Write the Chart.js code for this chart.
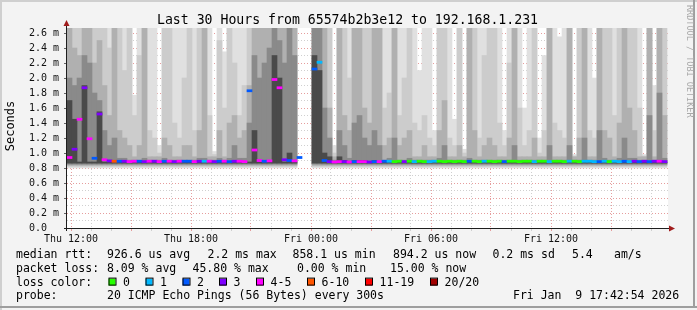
<!DOCTYPE html>
<html>
<head>
<meta charset="utf-8">
<script src="https://cdn.jsdelivr.net/npm/chart.js@4.4.1/dist/chart.umd.min.js"></script>
<style>
  html, body { margin: 0; padding: 0; background: #f3f3f3; }
  canvas { display: block; }
</style>
</head>
<body>
<canvas id="smoke" width="697" height="310"></canvas>
<script>
// 15 minute slots, hours counted from Thu 12:00 (first slot starts 11:48)
const T = 2.7; // ping ran off the top of the graph

// smoke layers: top of each grey band per slot, in ms (axis shows "m")
const smokeLight = [
  T,T,T,T,T,T,T,T,T,T,T,T,T,1.77,T,T,T,T,1.1,T,T,T,T,T,
  T,T,T,T,T,1.02,T,2.35,T,T,T,T,T,T,T,T,T,T,T,T,T,T,null,null,
  null,T,T,T,T,1.1,T,T,T,T,T,T,T,T,T,T,T,T,T,T,T,T,2.1,T,
  T,1.3,T,T,T,1.45,T,1.05,T,T,T,T,T,T,T,1.3,T,T,T,1.6,T,T,1.2,2.3,
  T,T,2.55,T,T,0.98,T,T,T,2.0,T,T,T,T,T,T,T,T,T,0.98,T,1.9,T,T
];
const smokeMid = [
  T,T,T,T,T,T,T,T,2.4,T,T,2.1,T,1.5,2.3,T,1.3,1.2,1.0,T,T,1.4,1.2,2.0,
  T,1.3,T,T,1.5,0.98,2.5,1.6,T,2.2,1.5,1.9,T,T,T,T,T,T,T,T,T,T,null,null,
  null,T,T,T,T,1.0,T,T,2.0,T,T,T,T,T,T,1.6,1.8,T,1.5,2.0,T,1.4,1.3,1.5,
  1.2,1.1,T,T,1.2,1.1,T,1.0,T,T,1.2,2.3,T,T,1.4,1.1,2.2,T,1.6,1.1,1.3,T,1.0,1.3,
  T,1.4,1.3,1.2,T,0.96,T,T,1.3,1.2,T,T,T,1.5,T,T,T,T,1.6,0.96,T,1.3,T,T
];
const smokeGray = [
  T,2.4,2.3,T,T,2.2,2.5,1.9,1.5,T,1.3,1.2,1.1,0.95,1.1,T,0.95,0.95,0.95,1.2,1.1,0.95,0.95,1.1,
  1.1,0.95,1.3,T,0.95,0.95,1.3,0.95,1.4,1.5,1.2,1.3,1.9,T,T,T,T,T,T,T,T,T,null,null,
  null,T,T,T,1.6,0.95,T,1.5,1.3,T,T,1.6,1.4,T,T,1.1,1.2,T,1.1,1.2,1.3,0.95,0.95,1.1,
  0.95,0.95,1.3,1.7,0.95,0.95,1.1,0.95,T,1.3,0.95,1.1,1.2,1.1,0.95,0.95,1.2,T,0.95,0.95,0.95,1.2,0.95,0.95,
  T,0.95,0.95,0.95,T,0.95,1.2,T,0.95,0.95,T,1.3,1.2,0.95,1.4,T,1.6,1.3,0.95,0.95,T,0.95,T,1.5
];
const smokeDark = [
  2.0,1.9,2.0,2.3,2.2,1.8,1.7,1.3,1.1,1.2,0.93,0.93,0.905,0.905,0.905,0.93,0.905,0.905,0.905,0.93,0.905,0.905,0.905,0.905,
  0.905,0.905,0.93,0.93,0.905,0.905,0.93,0.905,0.93,1.1,0.93,0.93,1.4,2.3,2.0,2.2,2.4,T,2.5,2.2,T,2.3,null,null,
  null,T,T,1.6,1.2,0.905,1.3,1.1,0.93,1.4,1.5,1.2,1.1,1.3,1.1,0.905,0.93,1.2,0.905,0.905,0.93,0.905,0.905,0.905,
  0.905,0.905,0.93,1.1,0.905,0.905,0.905,0.905,0.93,0.905,0.905,0.905,0.905,0.905,0.905,0.905,0.905,1.1,0.905,0.905,0.905,0.905,0.905,0.905,
  1.1,0.905,0.905,0.905,1.1,0.905,0.905,1.2,0.905,0.905,1.3,0.93,0.905,0.905,0.93,1.2,0.93,0.93,0.905,0.905,1.5,0.905,1.8,0.93
];
const smokeBlack = [
  1.7,1.45,0.88,1.9,0.88,0.88,1.55,0.88,0.88,0.88,0.88,0.88,0.88,0.88,0.88,0.88,0.88,0.88,0.88,0.88,0.88,0.88,0.88,0.88,
  0.88,0.88,0.88,0.88,0.88,0.88,0.88,0.88,0.88,0.88,0.88,0.88,0.88,1.3,0.88,0.88,0.88,2.3,2.0,0.88,1.0,0.88,null,null,
  null,2.3,2.1,1.0,0.95,0.88,0.95,0.9,0.88,0.9,0.9,0.9,0.88,0.9,0.88,0.88,0.88,0.88,0.88,0.88,0.88,0.88,0.88,0.88,
  0.88,0.88,0.88,0.88,0.88,0.88,0.88,0.88,0.88,0.88,0.88,0.88,0.88,0.88,0.88,0.88,0.88,0.88,0.88,0.88,0.88,0.88,0.88,0.88,
  0.88,0.88,0.88,0.88,0.88,0.88,0.88,0.88,0.88,0.88,0.88,0.88,0.88,0.88,0.88,0.88,0.88,0.88,0.88,0.88,0.88,0.88,0.9,0.88
];
// lowest ping of each band (the smoke under the median)
const smokeFloor = [0.865, 0.85, 0.835, 0.82, 0.80];

const medianRtt = [
  0.94,1.05,1.45,1.87,1.19,0.93,1.52,0.91,0.895,0.89,0.89,0.89,0.885,0.89,0.89,0.885,0.89,0.89,0.885,0.89,0.89,0.885,0.89,0.89,
  0.89,0.885,0.89,0.89,0.89,0.885,0.89,0.89,0.885,0.89,0.89,0.885,1.83,1.04,0.9,0.89,0.895,1.98,1.87,0.91,0.9,0.895,0.94,null,
  null,2.12,2.21,0.9,0.885,0.88,0.885,0.885,0.88,0.885,0.885,0.885,0.88,0.885,0.885,0.89,0.89,0.885,0.89,0.885,0.89,0.885,0.89,0.885,
  0.885,0.89,0.89,0.885,0.89,0.885,0.89,0.885,0.89,0.89,0.885,0.89,0.89,0.885,0.89,0.885,0.89,0.89,0.885,0.89,0.89,0.885,0.89,0.89,
  0.885,0.89,0.89,0.885,0.89,0.89,0.885,0.89,0.89,0.885,0.885,0.89,0.885,0.89,0.885,0.89,0.885,0.89,0.885,0.89,0.885,0.89,0.89,0.885
];
// index into lossColors
const lossLevel = [
  4,3,4,3,4,2,3,4,3,5,2,3,4,4,2,3,4,3,4,2,4,3,4,2,
  2,4,3,1,4,3,2,4,2,3,4,4,2,4,4,2,4,4,4,3,2,4,2,0,
  0,2,1,2,3,4,4,3,4,2,4,4,3,2,4,2,1,0,0,3,0,1,0,0,
  1,1,0,0,0,0,0,0,2,0,0,1,0,0,0,2,0,0,0,0,0,1,0,0,
  1,0,0,0,1,0,0,1,1,1,2,1,0,1,1,2,1,3,2,3,2,3,4,3
];

const lossLabels = ["0", "1", "2", "3", "4-5", "6-10", "11-19", "20/20"];
const lossColors = ["#26ff00", "#00b8ff", "#0059ff", "#7e00ff", "#ff00ff", "#ff5500", "#ff0000", "#a10000"];
const smokeColors = ["#4a4a4a", "#8a8a8a", "#b0b0b0", "#cccccc", "#e0e0e0"];

const timeTicks = [0, 6, 12, 18, 24];
const timeLabels = ["Thu 12:00", "Thu 18:00", "Fri 00:00", "Fri 06:00", "Fri 12:00"];

const slots = smokeLight.map((_, i) => -0.075 + i * 0.25);

const MONO = "'DejaVu Sans Mono', monospace";
const majorGrid = "rgba(226,140,140,0.85)";
const minorGrid = "rgba(200,200,200,0.85)";

function layerData(tops, floor) {
  const out = [];
  tops.forEach((top, i) => {
    if (top != null) out.push({ x: slots[i], y: [floor, top] });
  });
  return out;
}

const medianData = [];
medianRtt.forEach((m, i) => {
  if (m != null) medianData.push({ x: slots[i], y: [m - 0.014, m + 0.014], loss: lossLevel[i] });
});

const smokeSets = [smokeBlack, smokeDark, smokeGray, smokeMid, smokeLight].map((tops, k) => ({
  data: layerData(tops, smokeFloor[k]),
  backgroundColor: smokeColors[k],
  grouped: false,
  barPercentage: 1,
  categoryPercentage: 1,
  borderWidth: 0
}));

// legend rows under the graph, like rrdtool prints them
const rows = [
  [[16, "median rtt:"], [107, "926.6 us avg"], [207.5, "2.2 ms max"], [292.5, "858.1 us min"],
   [393, "894.2 us now"], [492.5, "0.2 ms sd"], [572, "5.4"], [614, "am/s"]],
  [[16, "packet loss:"], [107, "8.09 % avg"], [192.5, "45.80 % max"], [297, "0.00 % min"], [390, "15.00 % now"]],
  [[16, "loss color:"]],
  [[16, "probe:"], [107, "20 ICMP Echo Pings (56 Bytes) every 300s"], [513, "Fri Jan  9 17:42:54 2026"]]
];
const swatchX = [108.5, 145.5, 182.5, 219, 256, 307, 365, 430];

const rrdFrame = {
  id: "rrdFrame",
  beforeDraw(chart) {
    const { ctx, chartArea: a } = chart;
    ctx.save();
    ctx.fillStyle = "#f3f3f3";
    ctx.fillRect(0, 0, 697, 310);
    ctx.fillStyle = "#cfcfcf";
    ctx.fillRect(0, 0, 697, 2);
    ctx.fillRect(0, 0, 2, 310);
    ctx.fillStyle = "#9e9e9e";
    ctx.fillRect(0, 306, 697, 2);
    ctx.fillRect(693, 0, 2, 308);
    ctx.fillStyle = "#ffffff";
    ctx.fillRect(a.left, a.top, a.right - a.left, a.bottom - a.top);
    ctx.restore();
  },
  afterDraw(chart) {
    const { ctx, chartArea: a } = chart;
    ctx.save();

    // axes and arrows
    ctx.strokeStyle = "#1e1e1e";
    ctx.lineWidth = 1;
    ctx.beginPath();
    ctx.moveTo(64, a.bottom + 0.5);
    ctx.lineTo(670, a.bottom + 0.5);
    ctx.moveTo(a.left - 0.5, a.bottom + 3);
    ctx.lineTo(a.left - 0.5, 24);
    ctx.stroke();
    ctx.fillStyle = "#a01c1c";
    ctx.beginPath();
    ctx.moveTo(a.left - 0.5, 20);
    ctx.lineTo(a.left - 3.5, 26);
    ctx.lineTo(a.left + 2.5, 26);
    ctx.closePath();
    ctx.fill();
    ctx.beginPath();
    ctx.moveTo(675, a.bottom + 0.5);
    ctx.lineTo(669, a.bottom - 2.5);
    ctx.lineTo(669, a.bottom + 3.5);
    ctx.closePath();
    ctx.fill();

    // title
    ctx.fillStyle = "#000";
    ctx.font = "13.2px " + MONO;
    ctx.textAlign = "center";
    ctx.textBaseline = "alphabetic";
    ctx.fillText("Last 30 Hours from 65574b2b3e12 to 192.168.1.231", 347.5, 24);

    // vertical unit label
    ctx.save();
    ctx.translate(11, 126);
    ctx.rotate(-Math.PI / 2);
    ctx.font = "12px " + MONO;
    ctx.textBaseline = "middle";
    ctx.fillText("Seconds", 0, 0);
    ctx.restore();

    // watermark
    ctx.save();
    ctx.translate(689.5, 5);
    ctx.rotate(Math.PI / 2);
    ctx.font = "8.5px " + MONO;
    ctx.fillStyle = "#a8a8a8";
    ctx.textAlign = "left";
    ctx.textBaseline = "middle";
    ctx.fillText("RRDTOOL / TOBI OETIKER", 0, 0);
    ctx.restore();

    // legend
    ctx.font = "11.5px " + MONO;
    ctx.textAlign = "left";
    ctx.textBaseline = "alphabetic";
    ctx.fillStyle = "#000";
    rows.forEach((row, r) => {
      const y = 258 + r * 13.8;
      row.forEach(([x, txt]) => ctx.fillText(txt, x, y));
    });
    const sy = 258 + 2 * 13.8;
    lossLabels.forEach((lbl, i) => {
      const x = swatchX[i];
      ctx.fillStyle = lossColors[i];
      ctx.fillRect(x, sy - 7, 7, 7);
      ctx.strokeStyle = "#000";
      ctx.strokeRect(x + 0.5, sy - 7.5, 7, 7);
      ctx.fillStyle = "#000";
      ctx.fillText(lbl, x + 14.6, sy);
    });
    ctx.restore();
  }
};

new Chart(document.getElementById("smoke"), {
  type: "bar",
  data: {
    datasets: [
      {
        data: medianData,
        backgroundColor: (c) => (c.raw ? lossColors[c.raw.loss] : "#000"),
        grouped: false,
        barPercentage: 1,
        categoryPercentage: 1,
        borderWidth: 0
      },
      ...smokeSets
    ]
  },
  options: {
    responsive: false,
    animation: false,
    events: [],
    layout: { padding: { top: 28, right: 29, left: 0, bottom: 0 } },
    plugins: { legend: { display: false }, tooltip: { enabled: false } },
    scales: {
      x: {
        type: "linear",
        min: -0.2,
        max: 29.85,
        offset: false,
        z: 1,
        afterFit(s) { s.height = 82; },
        border: { display: false, dash: [1, 2] },
        grid: {
          offset: false,
          color: (c) => (Math.round(c.tick.value) % 3 === 0 ? majorGrid : minorGrid),
          tickColor: (c) => (Math.round(c.tick.value) % 3 === 0 ? majorGrid : minorGrid),
          tickLength: 3
        },
        ticks: {
          stepSize: 1,
          includeBounds: false,
          autoSkip: false,
          maxRotation: 0,
          padding: 2,
          color: "#111",
          font: { family: MONO, size: 10 },
          callback: (v) => {
            const k = timeTicks.indexOf(Math.round(v));
            return k >= 0 ? timeLabels[k] : "";
          }
        }
      },
      y: {
        min: 0,
        max: 2.667,
        z: 1,
        afterFit(s) { s.width = 67; },
        border: { display: false, dash: [1, 2] },
        grid: {
          color: (c) => (Math.round(c.tick.value * 10) % 2 === 0 ? majorGrid : minorGrid),
          tickColor: (c) => (Math.round(c.tick.value * 10) % 2 === 0 ? "#666" : "rgba(0,0,0,0)"),
          tickLength: 3
        },
        ticks: {
          stepSize: 0.1,
          includeBounds: false,
          autoSkip: false,
          padding: 5,
          color: "#111",
          font: { family: MONO, size: 10 },
          callback: (v) => {
            const k = Math.round(v * 10);
            if (k % 2) return "";
            return k === 0 ? "0.0  " : (k / 10).toFixed(1) + " m";
          }
        }
      }
    }
  },
  plugins: [rrdFrame]
});
</script>
</body>
</html>
